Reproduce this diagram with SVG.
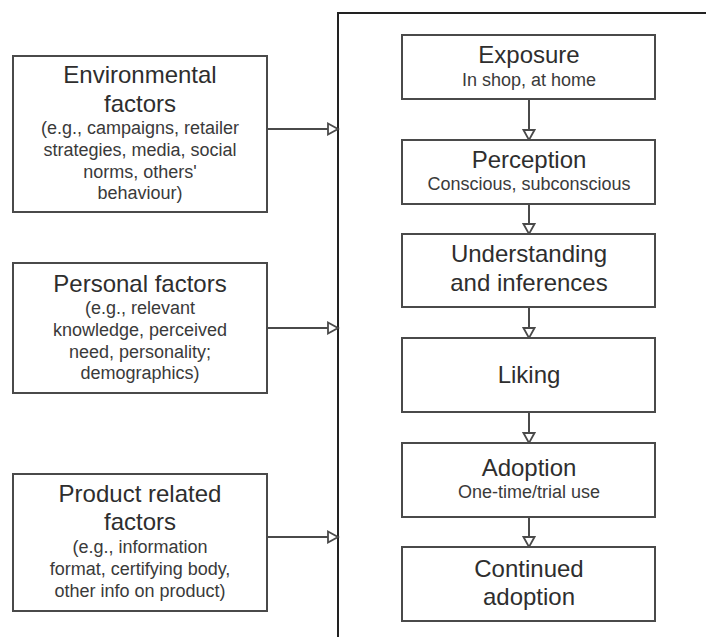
<svg xmlns="http://www.w3.org/2000/svg" width="706" height="637" viewBox="0 0 706 637">
<style>
.box{fill:#fff;stroke:#4a4a4a;stroke-width:2}
.t{font-family:"Liberation Sans",Arial,sans-serif;font-size:24px;fill:#2e2e2e;text-anchor:middle}
.s{font-family:"Liberation Sans",Arial,sans-serif;font-size:18px;fill:#3a3a3a;text-anchor:middle}
.c{fill:none;stroke:#4a4a4a;stroke-width:2}
</style>
<defs>
<marker id="ah" markerUnits="userSpaceOnUse" markerWidth="14" markerHeight="14" refX="12" refY="7" orient="auto">
<path d="M2,1.5 L12,7 L2,12.5 Z" fill="#fff" stroke="#4a4a4a" stroke-width="1.8"/>
</marker>
</defs>
<rect width="706" height="637" fill="#fff"/>
<g id="container">
<path d="M338,637 V13 H706" fill="none" stroke="#222" stroke-width="2"/>
</g>
<g id="connectors">
<line class="c" x1="267" y1="129" x2="338" y2="129" marker-end="url(#ah)"/>
<line class="c" x1="267" y1="328" x2="338" y2="328" marker-end="url(#ah)"/>
<line class="c" x1="267" y1="537" x2="338" y2="537" marker-end="url(#ah)"/>
<line class="c" x1="529" y1="99" x2="529" y2="140" marker-end="url(#ah)"/>
<line class="c" x1="529" y1="204" x2="529" y2="234" marker-end="url(#ah)"/>
<line class="c" x1="529" y1="307" x2="529" y2="338" marker-end="url(#ah)"/>
<line class="c" x1="529" y1="412" x2="529" y2="443" marker-end="url(#ah)"/>
<line class="c" x1="529" y1="517" x2="529" y2="547" marker-end="url(#ah)"/>
</g>
<g id="environmental">
<rect class="box" x="13" y="56" width="254" height="156"/>
<text class="t" x="140" y="83">Environmental</text>
<text class="t" x="140" y="112">factors</text>
<text class="s" x="140" y="134">(e.g., campaigns, retailer</text>
<text class="s" x="140" y="156">strategies, media, social</text>
<text class="s" x="140" y="178">norms, others'</text>
<text class="s" x="140" y="199">behaviour)</text>
</g>
<g id="personal">
<rect class="box" x="13" y="263" width="254" height="130"/>
<text class="t" x="140" y="292">Personal factors</text>
<text class="s" x="140" y="314">(e.g., relevant</text>
<text class="s" x="140" y="336">knowledge, perceived</text>
<text class="s" x="140" y="358">need, personality;</text>
<text class="s" x="140" y="379">demographics)</text>
</g>
<g id="product">
<rect class="box" x="13" y="474" width="254" height="137"/>
<text class="t" x="140" y="502">Product related</text>
<text class="t" x="140" y="530">factors</text>
<text class="s" x="140" y="553">(e.g., information</text>
<text class="s" x="140" y="575">format, certifying body,</text>
<text class="s" x="140" y="597">other info on product)</text>
</g>
<g id="exposure">
<rect class="box" x="402" y="35" width="253" height="64"/>
<text class="t" x="529" y="63">Exposure</text>
<text class="s" x="529" y="86">In shop, at home</text>
</g>
<g id="perception">
<rect class="box" x="402" y="140" width="253" height="64"/>
<text class="t" x="529" y="168">Perception</text>
<text class="s" x="529" y="190">Conscious, subconscious</text>
</g>
<g id="understanding">
<rect class="box" x="402" y="234" width="253" height="73"/>
<text class="t" x="529" y="262">Understanding</text>
<text class="t" x="529" y="291">and inferences</text>
</g>
<g id="liking">
<rect class="box" x="402" y="338" width="253" height="74"/>
<text class="t" x="529" y="383">Liking</text>
</g>
<g id="adoption">
<rect class="box" x="402" y="443" width="253" height="74"/>
<text class="t" x="529" y="476">Adoption</text>
<text class="s" x="529" y="498">One-time/trial use</text>
</g>
<g id="continued">
<rect class="box" x="402" y="547" width="253" height="74"/>
<text class="t" x="529" y="577">Continued</text>
<text class="t" x="529" y="605">adoption</text>
</g>
</svg>
